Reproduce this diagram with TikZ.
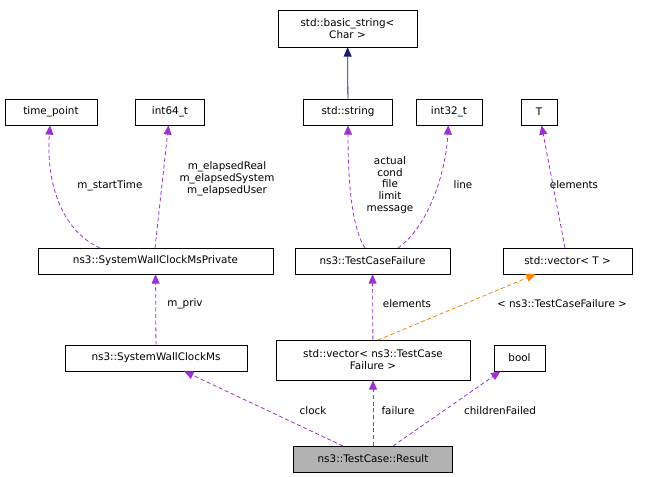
\documentclass[tikz,border=0pt]{standalone}
\usepackage{fontspec}
\setmainfont{DejaVu Sans}
\usetikzlibrary{arrows.meta}
\definecolor{usecol}{RGB}{154,50,205}
\definecolor{inhcol}{RGB}{25,25,112}
\begin{document}
\begin{tikzpicture}[x=0.75pt,y=-0.75pt,font=\fontsize{7.8}{8.9}\selectfont]

\tikzstyle{box} = [draw, inner sep=2pt, align=center, fill=white];
\tikzstyle{use} = [densely dashed, line width=0.6pt, draw=usecol, -{Triangle[fill=usecol,length=7pt,width=6pt]}];
\tikzstyle{tmpl} = [densely dashed, line width=0.6pt, draw=orange, -{Triangle[fill=orange,length=7pt,width=6pt]}];
\tikzstyle{inh} = [line width=0.6pt, draw=inhcol, -{Triangle[fill=inhcol,length=7pt,width=6pt]}];
\tikzstyle{lab} = [align=center, inner sep=1pt];

\useasboundingbox (0,0) rectangle (649,477);

%classes:
\node[box, minimum width=0.75*139pt, minimum height=0.75*37pt] (bstr) at (347.5,28.5) {std::basic\_string\textless\\Char \textgreater};
\node[box, minimum width=0.75*92pt, minimum height=0.75*26pt] (tp) at (51,112) {time\_point};
\node[box, minimum width=0.75*69pt, minimum height=0.75*26pt] (i64) at (170,112) {int64\_t};
\node[box, minimum width=0.75*89pt, minimum height=0.75*26pt] (str) at (348,112) {std::string};
\node[box, minimum width=0.75*66pt, minimum height=0.75*26pt] (i32) at (449,112) {int32\_t};
\node[box, minimum width=0.75*36pt, minimum height=0.75*26pt] (T) at (539,112) {T};
\node[box, minimum width=0.75*235pt, minimum height=0.75*26pt] (priv) at (155.5,261) {ns3::SystemWallClockMsPrivate};
\node[box, minimum width=0.75*155pt, minimum height=0.75*26pt] (tcf) at (372.5,261) {ns3::TestCaseFailure};
\node[box, minimum width=0.75*129pt, minimum height=0.75*26pt] (vecT) at (567.5,261) {std::vector\textless{} T \textgreater};
\node[box, minimum width=0.75*182pt, minimum height=0.75*26pt] (swc) at (156,358) {ns3::SystemWallClockMs};
\node[box, minimum width=0.75*194pt, minimum height=0.75*40pt] (vtcf) at (373,360) {std::vector\textless{} ns3::TestCase\\Failure \textgreater};
\node[box, minimum width=0.75*51pt, minimum height=0.75*26pt] (bool) at (519.5,358) {bool};
\node[box, fill=black!30, minimum width=0.75*159pt, minimum height=0.75*26pt] (res) at (373,459) {ns3::TestCase::Result};

%edges:
\draw[inh] (str) -- (bstr);
\draw[use] (100,248) .. controls (60,230) and (46,180) .. (tp);
\draw[use] (155,248) -- (i64);
\draw[use] (365,248) .. controls (350,225) and (348,170) .. (str);
\draw[use] (398,248) .. controls (430,225) and (446,170) .. (i32);
\draw[use] (vecT) -- (T);
\draw[use] (swc) -- (priv);
\draw[use] (vtcf) -- (tcf);
\draw[tmpl] (378,340) -- (vecT);
\draw[use] (343,446) -- (swc);
\draw[use] (res) -- (vtcf);
\draw[use] (393,446) -- (bool);

%labels:
\node[lab] (l1) at (110,186) {m\_startTime};
\node[lab] (l2) at (227,179) {m\_elapsedReal\\m\_elapsedSystem\\m\_elapsedUser};
\node[lab] (l3) at (390,185) {actual\\cond\\file\\limit\\message};
\node[lab] (l4) at (463,185) {line};
\node[lab] (l5) at (574,185) {elements};
\node[lab] (l6) at (185,304) {m\_priv};
\node[lab] (l7) at (407,304) {elements};
\node[lab] (l8) at (562,304) {\textless{} ns3::TestCaseFailure \textgreater};
\node[lab] (l9) at (313,411) {clock};
\node[lab] (l10) at (398,411) {failure};
\node[lab] (l11) at (500,411) {childrenFailed};

\end{tikzpicture}
\end{document}
